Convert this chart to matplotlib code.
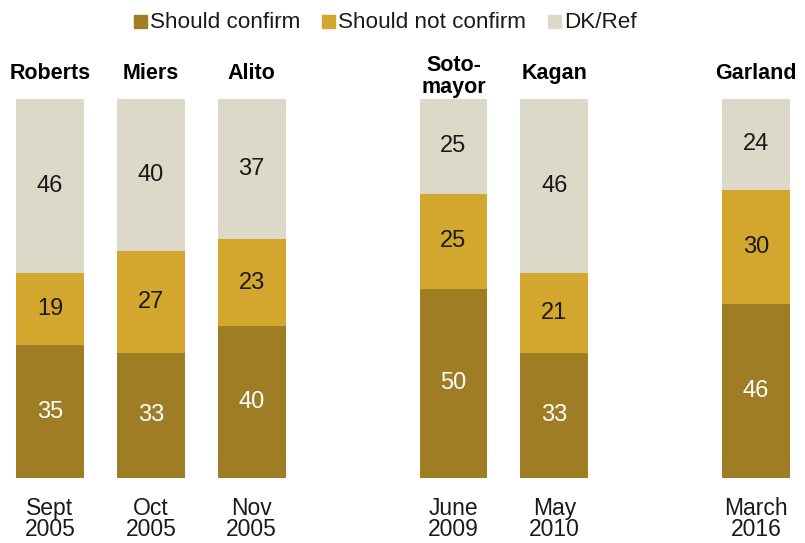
import matplotlib
matplotlib.use("Agg")
import matplotlib.pyplot as plt
from matplotlib.patches import Rectangle
from matplotlib.transforms import blended_transform_factory

plt.rcParams['font.family'] = ['Liberation Sans', 'DejaVu Sans']

# Nominees, poll dates and responses (%)
nominees = ["Roberts", "Miers", "Alito", "Soto-\nmayor", "Kagan", "Garland"]
months = ["Sept", "Oct", "Nov", "June", "May", "March"]
years = ["2005", "2005", "2005", "2009", "2010", "2016"]
slots = [0, 1, 2, 4, 5, 7]
confirm = [35, 33, 40, 50, 33, 46]
not_confirm = [19, 27, 23, 25, 21, 30]
dk_ref = [46, 40, 37, 25, 46, 24]

series = ["Should confirm", "Should not confirm", "DK/Ref"]
colors = ["#9E7D24", "#D3A62E", "#DCD9C8"]
text_colors = ["white", "#1a1a1a", "#1a1a1a"]

W, H = 805, 543
fig = plt.figure(figsize=(W / 100, H / 100), dpi=100, facecolor="white")
ax = fig.add_axes([0, (H - 478) / H, 1, (478 - 99) / H])
ax.set_xlim(-0.496, 7.486)
ax.set_ylim(0, 100)
ax.axis("off")


def py(y):
    # pixel row (from top) -> figure fraction
    return 1 - y / H


bottom = [0] * len(slots)
for vals, col, tcol in zip([confirm, not_confirm, dk_ref], colors, text_colors):
    ax.bar(slots, vals, bottom=bottom, width=0.67, color=col, linewidth=0)
    for x, b, v in zip(slots, bottom, vals):
        ax.text(x, b + v / 2, str(v), ha="center", va="center",
                color=tcol, fontsize=17)
    bottom = [b + v for b, v in zip(bottom, vals)]

# Nominee names above, poll dates below
tr = blended_transform_factory(ax.transData, fig.transFigure)
for x, name, m, yr in zip(slots, nominees, months, years):
    lines = name.split("\n")
    base = [79] if len(lines) == 1 else [71, 93]
    for ln, b in zip(lines, base):
        ax.text(x, py(b), ln, transform=tr, ha="center", va="baseline",
                fontsize=15.5, fontweight="bold", color="black")
    ax.text(x, py(515), m, transform=tr, ha="center", va="baseline",
            fontsize=16.5, color="#1a1a1a")
    ax.text(x, py(536), yr, transform=tr, ha="center", va="baseline",
            fontsize=16.5, color="#1a1a1a")

# Legend row
for (x0, label), col in zip([(134, series[0]), (322, series[1]), (548, series[2])], colors):
    fig.patches.append(Rectangle((x0 / W, py(28)), 13 / W, 13 / H,
                                 transform=fig.transFigure, color=col, figure=fig))
    fig.text((x0 + 16) / W, py(28.5), label, ha="left", va="baseline",
             fontsize=16.2, color="#1a1a1a")

fig.savefig("out.png", dpi=100, facecolor="white")
